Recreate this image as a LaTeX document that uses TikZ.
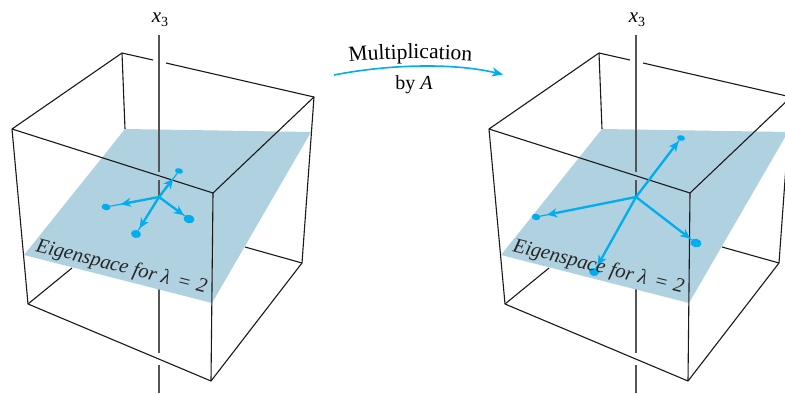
\documentclass[tikz,border=0pt]{standalone}
\usepackage{fontspec}
\setmainfont{Liberation Serif}
\usetikzlibrary{arrows.meta,calc,shapes.geometric,decorations.text}
\definecolor{vec}{HTML}{00AEEF}
\definecolor{planec}{HTML}{B0D1E0}
\definecolor{axisc}{HTML}{555555}
\tikzset{
  edge/.style={draw=black!90,line width=1.1pt,line join=round},
  axisl/.style={draw=axisc,line width=1.3pt},
  thickv/.style={draw=vec,line width=2.3pt,-{Stealth[length=10pt,width=9pt,inset=3pt]},shorten >=-1pt},
  thinv/.style={draw=vec,line width=1.2pt},
  tipdot/.style={ellipse,fill=vec,inner sep=0pt,rotate=-12},
  axlabel/.style={font=\fontsize{21}{21}\selectfont\itshape},
  planelabel/.style={font=\fontsize{20.5}{22}\selectfont\itshape,rotate=-14,anchor=base west,inner sep=0pt,text=black!85},
}
\newcommand{\eigtext}{Eigenspace for λ\hspace{0.12em} = \hspace{0.05em}2}
\newcommand{\cubepanel}[8]{%
  \coordinate (bt) at (122,53);
  \coordinate (rt) at (314,97);
  \coordinate (lt) at (12,129);
  \coordinate (ft) at (213,193);
  \coordinate (fb) at (211,381);
  \coordinate (lb) at (28,304);
  \coordinate (rb) at (302,263);
  \coordinate (pa) at (125,129);
  \coordinate (pb) at (311,132);
  \coordinate (pc) at (212,303);
  \coordinate (pd) at (24,255);
  \coordinate (o) at (159,197);
  % back edges
  \draw[edge] (bt) -- (pa);
  \draw[edge] (bt) -- (153,60) (166,63) -- (rt);
  \draw[edge] (lb) -- (72,268);
  \draw[edge] (rb) -- (245,247);
  % lower axis
  \draw[axisl] (159,289) -- (159,353) (159,365) -- (159,393);
  % plane
  \fill[planec] (pa) -- (pb) -- (pc) -- (pd) -- cycle;
  % upper axis
  \draw[axisl] (159,35) -- (159,172) (159,180) -- (o);
  % front edges
  \draw[edge] (bt) -- (lt) -- (ft) -- (rt) -- (rb) -- (fb) -- (lb) -- (lt);
  \draw[edge] (ft) -- (fb);
  % label of axis
  \node[axlabel] (xlabel) at (160,20) {\textit{x}\raisebox{-4pt}{\upshape\fontsize{14}{14}\selectfont 3}};
  % vectors
  \node[tipdot,minimum width=#2,minimum height=5.5pt] (d1) at #1 {};
  \node[tipdot,minimum width=#4,minimum height=6.5pt] (d2) at #3 {};
  \node[tipdot,minimum width=#6,minimum height=8.5pt] (d3) at #5 {};
  \node[tipdot,minimum width=#8,minimum height=8pt] (d4) at #7 {};
}
\begin{document}
\begin{tikzpicture}[x=1pt,y=-1pt]
\clip (0,0) rectangle (785,394);
\fill[white] (0,0) rectangle (785,394);
% left panel
\begin{scope}
  \cubepanel{(179,171)}{8pt}{(106,207)}{9pt}{(189,219)}{11pt}{(136,234)}{10pt}
  \draw[thinv] (o) -- (d1);
  \draw[thinv] (o) -- (d2);
  \draw[thinv] (o) -- (d3);
  \draw[thinv] (o) -- (d4);
  \draw[thickv] (o) -- ($(o)!.68!(d1.center)$);
  \draw[thickv] (o) -- ($(o)!.70!(d2.center)$);
  \draw[thickv] (o) -- ($(o)!.80!(d3.center)$);
  \draw[thickv] (o) -- ($(o)!.82!(d4.center)$);
  \node[planelabel] (eig) at (35,251) {\eigtext};
\end{scope}
% right panel
\begin{scope}[shift={(477,0)}]
  \cubepanel{(204,138)}{8pt}{(59,217)}{8.5pt}{(219,243)}{11pt}{(117,272)}{10pt}
  \draw[thinv] (o) -- (d1);
  \draw[thinv] (o) -- (d2);
  \draw[thinv] (o) -- (d3);
  \draw[thinv] (o) -- (d4);
  \draw[thickv] (o) -- ($(o)!.93!(d1.center)$);
  \draw[thickv] (o) -- ($(o)!.88!(d2.center)$);
  \draw[thickv] (o) -- ($(o)!.89!(d3.center)$);
  \draw[thickv] (o) -- ($(o)!.90!(d4.center)$);
  \node[planelabel] (eig) at (35,251) {\eigtext};
\end{scope}
% arrow
\coordinate (arrs) at (334,75);
\coordinate (arre) at (503,74.5);
\draw[draw=vec,line width=1.6pt,-{Stealth[length=11pt,width=9pt,inset=3pt]}] (arrs) .. controls (385,65) and (450,62) .. (arre);
\path[decorate,decoration={text along path,text align=center,
  text={|\fontsize{21.5}{22}\selectfont|Multiplication}}]
  (345,62.5) .. controls (385,58) and (435,58) .. (476,61);
\node[font=\fontsize{20}{20}\selectfont,anchor=base] (bya) at (414,89.5) {by \textit{A}};
\end{tikzpicture}
\end{document}
